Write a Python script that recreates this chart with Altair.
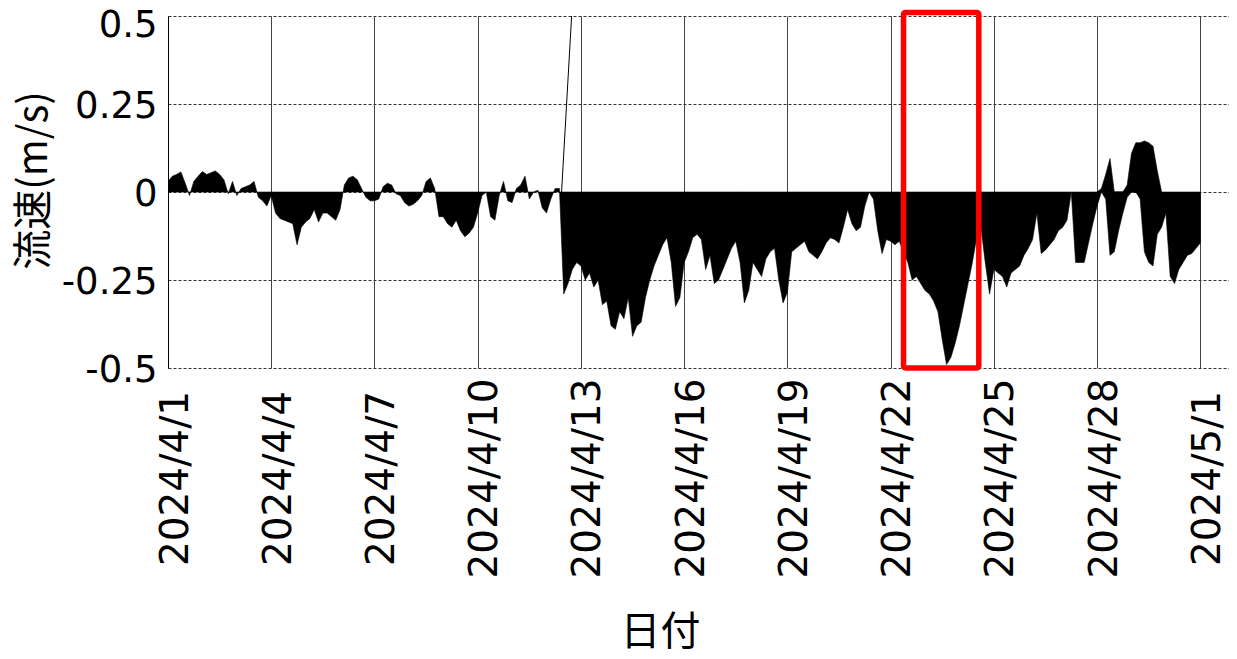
import altair as alt
import pandas as pd

# 3-hourly current speed (m/s), starting 2024-04-01 00:00
v_week1 = [  # 4/1 - 4/7
    0.03, 0.045, 0.05, 0.057, 0.025, -0.01, 0.03, 0.045,
    0.058, 0.05, 0.055, 0.06, 0.05, 0.035, -0.005, 0.03,
    -0.01, 0.01, 0.015, 0.02, 0.03, -0.015, -0.025, -0.04,
    -0.01, -0.06, -0.075, -0.08, -0.085, -0.09, -0.15, -0.10,
    -0.085, -0.075, -0.05, -0.085, -0.06, -0.06, -0.07, -0.08,
    -0.05, 0.02, 0.04, 0.045, 0.035, 0.01, -0.015, -0.025,
    -0.025, -0.02, 0.015, 0.025, 0.02, -0.005, -0.01, -0.03,
]
v_week2 = [  # 4/8 - 4/14
    -0.04, -0.035, -0.025, -0.01, 0.03, 0.04, 0.01, -0.07,
    -0.07, -0.09, -0.1, -0.08, -0.11, -0.127, -0.117, -0.1,
    -0.06, -0.01, 0.0, -0.07, -0.08, -0.01, 0.03, -0.025,
    -0.03, 0.01, 0.02, 0.045, -0.02, 0.0, 0.005, -0.045,
    -0.06, -0.02, 0.01, 0.01, -0.29, -0.26, -0.22, -0.2,
    -0.21, -0.25, -0.23, -0.27, -0.25, -0.32, -0.31, -0.38,
    -0.39, -0.34, -0.36, -0.3, -0.41, -0.38, -0.37, -0.3,
]
v_week3 = [  # 4/15 - 4/21
    -0.25, -0.21, -0.18, -0.15, -0.13, -0.2, -0.325, -0.3,
    -0.2, -0.17, -0.13, -0.12, -0.135, -0.22, -0.18, -0.26,
    -0.25, -0.22, -0.19, -0.16, -0.14, -0.2, -0.315, -0.28,
    -0.2, -0.22, -0.24, -0.19, -0.17, -0.16, -0.25, -0.315,
    -0.285, -0.17, -0.16, -0.15, -0.14, -0.17, -0.18, -0.19,
    -0.17, -0.145, -0.13, -0.135, -0.145, -0.1, -0.05, -0.09,
    -0.11, -0.1, -0.04, 0.0, -0.02, -0.11, -0.175, -0.135,
]
v_week4 = [  # 4/22 - 4/28
    -0.14, -0.15, -0.14, -0.17, -0.2, -0.25, -0.24, -0.26,
    -0.28, -0.29, -0.31, -0.34, -0.42, -0.49, -0.47, -0.43,
    -0.38, -0.32, -0.26, -0.2, -0.13, -0.1, -0.2, -0.29,
    -0.22, -0.23, -0.24, -0.27, -0.23, -0.22, -0.21, -0.18,
    -0.16, -0.135, -0.06, -0.175, -0.165, -0.15, -0.135, -0.11,
    -0.1, -0.08, 0.0, -0.2, -0.2, -0.2, -0.145, -0.09,
    -0.04, 0.0, -0.02, -0.18, -0.17, -0.11, -0.06, -0.015,
]
v_tail = [  # 4/29 - 5/1 00:00
    0.0, 0.0, -0.02, -0.17, -0.2, -0.21, -0.12, -0.1,
    -0.06, -0.24, -0.26, -0.22, -0.2, -0.18, -0.175, -0.16,
    -0.145,
]

# upward (positive) sticks that overlap the downward ones, 3-hourly from 4/28 00:00
pos_start = "2024-04-28T00:00:00"
v_pos = [0.0, 0.01, 0.05, 0.095, 0.0, 0.0, 0.0, 0.02,
         0.11, 0.14, 0.14, 0.145, 0.14, 0.13, 0.06, 0.0]

# one large stick on 4/12 running off the top of the plot
stick_start = "2024-04-12T10:30:00"
stick_end = "2024-04-12T17:30:00"
stick_value = 0.5

# highlighted period (red box)
box_start = "2024-04-22T09:00:00"
box_end = "2024-04-24T13:30:00"
box_top = 0.51
box_bottom = -0.5

x_tick_dates = ["2024-04-01", "2024-04-04", "2024-04-07", "2024-04-10", "2024-04-13",
                "2024-04-16", "2024-04-19", "2024-04-22", "2024-04-25", "2024-04-28",
                "2024-05-01"]
y_ticks = [-0.5, -0.25, 0, 0.25, 0.5]
x_start = "2024-04-01T00:00:00"
x_end = "2024-05-01T20:00:00"

values = v_week1 + v_week2 + v_week3 + v_week4 + v_tail
times = pd.date_range("2024-04-01 00:00", periods=len(values), freq="3h")
df = pd.DataFrame({"t": times, "v": values})

pos_times = pd.date_range(pos_start, periods=len(v_pos), freq="3h")
pos_df = pd.DataFrame({"t": pos_times, "v": v_pos})

stick_df = pd.DataFrame({"t0": [pd.Timestamp(stick_start)], "t1": [pd.Timestamp(stick_end)],
                         "v0": [0.0], "v1": [stick_value]})
box_df = pd.DataFrame({"t0": [pd.Timestamp(box_start)], "t1": [pd.Timestamp(box_end)],
                       "v0": [box_top], "v1": [box_bottom]})


def dt(s):
    ts = pd.Timestamp(s)
    return alt.DateTime(year=ts.year, month=ts.month, date=ts.day, hours=ts.hour, minutes=ts.minute)


LABEL_FONT = "DejaVu Sans"
TITLE_FONT = "Noto Sans CJK JP"

x_axis = alt.Axis(
    values=[dt(d) for d in x_tick_dates],
    labelExpr="timeFormat(datum.value, '%Y/%-m/%-d')",
    labelAngle=270, labelAlign="center", labelBaseline="middle",
    labelPadding=110, labelOffset=7, labelLimit=0,
    labelFont=LABEL_FONT, labelFontSize=39, labelColor="black",
    ticks=False, domain=False,
    grid=True, gridColor="#444444", gridWidth=1,
    title="日付", titleFont=TITLE_FONT, titleFontSize=40, titleFontWeight="normal",
    titleColor="black", titleX=492, titleY=264, titleAlign="center", titleBaseline="middle",
)
y_axis = alt.Axis(
    values=y_ticks,
    labelExpr="'' + datum.value",
    labelFont=LABEL_FONT, labelFontSize=37, labelColor="black",
    labelPadding=11,
    labelOffset={"condition": {"test": "datum.value == 0.5", "value": 9}, "value": 2},
    ticks=False, domain=True, domainColor="black", domainWidth=1,
    grid=True, gridColor="#333333", gridDash=[3, 2], gridWidth=1,
    title="流速(m/s)", titleFont=TITLE_FONT, titleFontSize=40, titleFontWeight="normal",
    titleColor="black", titleAngle=270, titleX=-134, titleY=164,
    titleAlign="center", titleBaseline="middle",
)

x_scale = alt.Scale(domain=[dt(x_start), dt(x_end)])
y_scale = alt.Scale(domain=[-0.5, 0.5], nice=False)

area = alt.Chart(df).mark_area(
    color="black", interpolate="linear", clip=True, stroke="black", strokeWidth=0.6
).encode(
    x=alt.X("t:T", scale=x_scale, axis=x_axis),
    y=alt.Y("v:Q", scale=y_scale, axis=y_axis),
    y2=alt.datum(0),
)

pos_area = alt.Chart(pos_df).mark_area(
    color="black", interpolate="linear", clip=True, stroke="black", strokeWidth=0.6
).encode(
    x="t:T", y="v:Q", y2=alt.datum(0),
)

stick = alt.Chart(stick_df).mark_rule(color="black", strokeWidth=1, clip=True).encode(
    x="t0:T", x2="t1:T", y="v0:Q", y2="v1:Q"
)

box = alt.Chart(box_df).mark_rect(
    fill=None, fillOpacity=0, stroke="#ff0000", strokeWidth=5.5, cornerRadius=2, clip=False
).encode(
    x="t0:T", x2="t1:T", y="v0:Q", y2="v1:Q"
)

chart = alt.layer(area, pos_area, stick, box).properties(
    width=1061, height=352,
    autosize=alt.AutoSizeParams(type="none"),
    padding={"left": 160, "top": 8, "right": 0, "bottom": 291},
    background="white",
).configure_view(stroke=None)

chart.save("out.html", embed_options={"renderer": "svg", "actions": False})
